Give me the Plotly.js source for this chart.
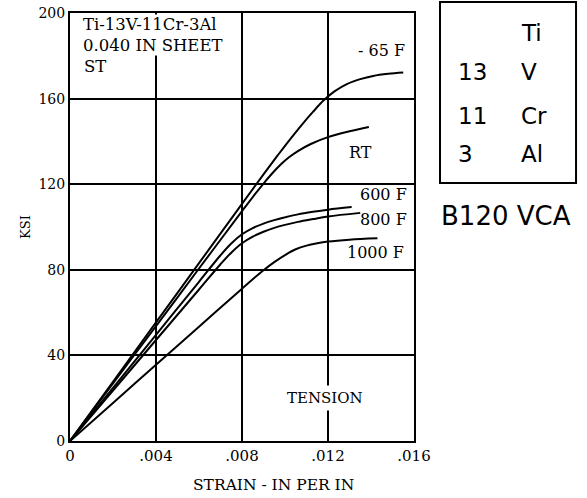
<!DOCTYPE html>
<html>
<head>
<meta charset="utf-8">
<script src="https://cdn.plot.ly/plotly-3.0.1.min.js"></script>
<style>html,body{margin:0;padding:0;background:#fff;}#chart{width:587px;height:498px;}</style>
</head>
<body>
<div id="chart"></div>
<script>
// Strain (in/in) and stress (ksi)
const curveNames = ["- 65 F", "RT", "600 F", "800 F", "1000 F"];

const strainM65 = [0, 0.002, 0.004, 0.006, 0.008, 0.009, 0.0097, 0.0103, 0.0108, 0.0113, 0.0118, 0.0123, 0.0129, 0.0135, 0.0141, 0.0148, 0.0155];
const stressM65 = [0, 27.7, 55.4, 83.1, 110.8, 124.6, 134, 141.8, 148, 153.8, 159.2, 163.4, 166.9, 169.1, 170.6, 171.6, 172.2];

const strainRT = [0, 0.002, 0.004, 0.006, 0.008, 0.0085, 0.009, 0.0094, 0.0098, 0.0102, 0.0106, 0.0112, 0.012, 0.013, 0.0139];
const stressRT = [0, 26.9, 53.7, 80.6, 107.4, 114, 120.3, 125, 129.2, 132.7, 135.5, 138.8, 142, 144.7, 146.7];

const strain600 = [0, 0.002, 0.004, 0.006, 0.007, 0.0075, 0.008, 0.0085, 0.009, 0.0095, 0.010, 0.0106, 0.0113, 0.012, 0.0131];
const stress600 = [0, 24.8, 49.6, 74.4, 86.8, 92.3, 96.6, 99.5, 101.6, 103.2, 104.5, 105.9, 107.1, 108.1, 109.3];

const strain800 = [0, 0.002, 0.004, 0.006, 0.007, 0.0075, 0.008, 0.0085, 0.009, 0.0095, 0.010, 0.0106, 0.0113, 0.012, 0.0135];
const stress800 = [0, 23.6, 47.2, 70.8, 82.6, 88, 92.4, 95.5, 97.8, 99.6, 101, 102.4, 103.7, 104.9, 106.6];

const strain1000 = [0, 0.002, 0.004, 0.006, 0.008, 0.0085, 0.009, 0.0095, 0.010, 0.0105, 0.011, 0.0115, 0.012, 0.013, 0.0143];
const stress1000 = [0, 17.8, 35.6, 53.4, 71.2, 75.6, 79.8, 83.6, 86.9, 89.6, 91.3, 92.4, 93.2, 94.1, 94.7];

const xTickVals = [0, 0.004, 0.008, 0.012, 0.016];
const xTickText = ["0", ".004", ".008", ".012", ".016"];
const yTickVals = [0, 40, 80, 120, 160, 200];

const serif = "DejaVu Serif, Liberation Serif, serif";
const sans = "DejaVu Sans, Liberation Sans, sans-serif";

const series = [
  [strainM65, stressM65], [strainRT, stressRT], [strain600, stress600],
  [strain800, stress800], [strain1000, stress1000]
];
const traces = series.map((s, i) => ({
  x: s[0], y: s[1], name: curveNames[i], type: "scatter", mode: "lines",
  line: {color: "#000", width: 2, shape: "spline", smoothing: 1},
  hoverinfo: "skip"
}));

const curveLabels = [
  {text: "- 65 F", x: 0.01451, y: 182.7},
  {text: "RT", x: 0.01349, y: 135},
  {text: "600 F", x: 0.01456, y: 115},
  {text: "800 F", x: 0.01456, y: 103.3},
  {text: "1000 F", x: 0.01423, y: 87.9}
];

const annotations = [];
curveLabels.forEach(l => annotations.push({
  x: l.x, y: l.y, xref: "x", yref: "y", text: l.text, showarrow: false,
  xanchor: "center", yanchor: "middle", font: {family: serif, size: 16, color: "#000"}
}));
// Material description (first two lines have a white backing that hides the grid line)
annotations.push({
  x: 0.00058, y: 189.8, xref: "x", yref: "y", text: "Ti-13V-11Cr-3Al<br>0.040 IN SHEET",
  showarrow: false, xanchor: "left", yanchor: "middle", align: "left",
  bgcolor: "#fff", borderpad: 0,
  font: {family: serif, size: 16.5, color: "#000"}
});
annotations.push({
  x: 0.00058, y: 175.2, xref: "x", yref: "y", text: "ST", showarrow: false,
  xanchor: "left", yanchor: "middle", font: {family: serif, size: 16.5, color: "#000"}
});
annotations.push({
  x: 0.01186, y: 20.1, xref: "x", yref: "y", text: "TENSION", showarrow: false,
  xanchor: "center", yanchor: "middle", bgcolor: "#fff", borderpad: 3,
  font: {family: serif, size: 15, color: "#000"}
});
// x-axis title (offset to the right as in the reference)
annotations.push({
  x: 0.5916, y: -0.103, xref: "paper", yref: "paper", text: "STRAIN - IN PER IN",
  showarrow: false, xanchor: "center", yanchor: "middle",
  font: {family: serif, size: 15.5, color: "#000"}
});
// Composition box on the right
const compNums = ["", "13", "11", "3"];
const compEls = ["Ti", "V", "Cr", "Al"];
const compY = [0.953, 0.862, 0.759, 0.671];
compNums.forEach((n, i) => {
  if (n) annotations.push({x: 1.122, y: compY[i], xref: "paper", yref: "paper", text: n,
    showarrow: false, xanchor: "left", yanchor: "middle", font: {family: sans, size: 23, color: "#000"}});
  annotations.push({x: 1.305, y: compY[i], xref: "paper", yref: "paper", text: compEls[i],
    showarrow: false, xanchor: "left", yanchor: "middle", font: {family: sans, size: 23, color: "#000"}});
});
annotations.push({x: 1.268, y: 0.525, xref: "paper", yref: "paper", text: "B120 VCA",
  showarrow: false, xanchor: "center", yanchor: "middle", font: {family: sans, size: 26, color: "#000"}});

const layout = {
  width: 587, height: 498,
  margin: {l: 70, r: 173, t: 13, b: 57, pad: 0},
  paper_bgcolor: "#fff", plot_bgcolor: "#fff",
  showlegend: false,
  xaxis: {
    range: [0, 0.016], tickvals: xTickVals, ticktext: xTickText,
    showgrid: true, gridcolor: "#000", gridwidth: 2, zeroline: false,
    showline: true, linecolor: "#000", linewidth: 2, mirror: true, ticks: "",
    tickfont: {family: serif, size: 15, color: "#000"},
    fixedrange: true
  },
  yaxis: {
    range: [0, 200], tickvals: yTickVals,
    showgrid: true, gridcolor: "#000", gridwidth: 2, zeroline: false,
    showline: true, linecolor: "#000", linewidth: 2, mirror: true, ticks: "",
    tickfont: {family: serif, size: 14, color: "#000"},
    title: {text: "KSI", font: {family: serif, size: 13, color: "#000"}, standoff: 5},
    fixedrange: true
  },
  shapes: [{type: "rect", xref: "paper", yref: "paper", x0: 1.0756, x1: 1.471, y0: 0.6028, y1: 1.0257,
    line: {color: "#000", width: 2}, fillcolor: "rgba(0,0,0,0)"}],
  annotations: annotations
};

Plotly.newPlot("chart", traces, layout, {staticPlot: true, displayModeBar: false});
</script>
</body>
</html>
